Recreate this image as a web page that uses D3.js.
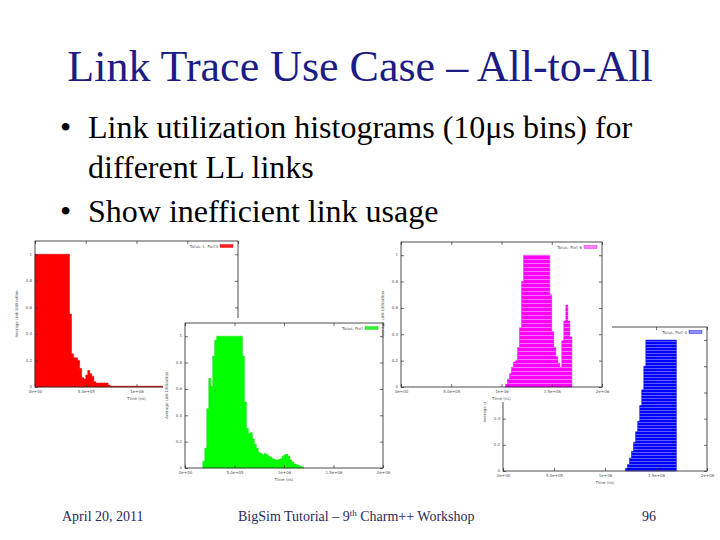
<!DOCTYPE html>
<html>
<head>
<meta charset="utf-8">
<script src="https://cdn.jsdelivr.net/npm/d3@7"></script>
<style>
  html, body { margin: 0; padding: 0; background: #fff; }
  svg { display: block; }
</style>
</head>
<body>
<svg id="chart" width="720" height="540"></svg>
<script>
// ---------------- data ----------------
const slideTitle = "Link Trace Use Case – All-to-All";
const bulletLines = [
  { bullet: true,  text: "Link utilization histograms (10μs bins) for" },
  { bullet: false, text: "different LL links" },
  { bullet: true,  text: "Show inefficient link usage" }
];
const footerDate = "April 20, 2011";
const footerPage = "96";

const binWidthNs = 2e4;            // time bin width (ns)
const timeMax = 2e6;
const utilMax = 1.1;
const xTickValues = [0, 5e5, 1e6, 1.5e6, 2e6];
const xTickLabels = ["0e+00", "5.0e+05", "1e+06", "1.5e+06", "2e+06"];
const yTickValues = [0, 0.2, 0.4, 0.6, 0.8, 1];
const yTickLabels = ["0", "0.2", "0.4", "0.6", "0.8", "1"];
const xAxisTitle = "Time (ns)";
const yAxisTitle = "Average Link Utilization";

// red link (Port 3)
const redLabel = "Torus: L. Port3";
const redStartBin = 0;
const redUtil = [1, 1, 1, 1, 1, 1, 1, 1, 1, 1, 1, 1, 1, 1, 1, 1, 1,
  0.55, 0.25, 0.22, 0.22, 0.2, 0.14, 0.07, 0.06, 0.09, 0.125, 0.1, 0.08, 0.04,
  0.03, 0.03, 0.03, 0.03, 0.03, 0.03, 0.015,
  0.006, 0.006, 0.006, 0.006, 0.006, 0.006, 0.006, 0.006, 0.006, 0.006, 0.006, 0.006, 0.006,
  0.006, 0.006, 0.006, 0.006, 0.006, 0.006, 0.006, 0.006, 0.006, 0.006, 0.006, 0.006, 0.006];

// green link
const greenLabel = "Torus: Port";
const greenStartBin = 9;
const greenUtil = [0.05, 0.15, 0.45, 0.68, 0.62, 0.85, 0.97,
  1, 1, 1, 1, 1, 1, 1, 1, 1, 1, 1, 1, 1,
  0.85, 0.5, 0.3, 0.26, 0.27, 0.22, 0.18, 0.15, 0.12, 0.11, 0.1, 0.11, 0.1, 0.09,
  0.08, 0.07, 0.065, 0.06, 0.065, 0.07, 0.09, 0.1, 0.105, 0.09, 0.06, 0.045, 0.03,
  0.025, 0.02, 0.012, 0.008];

// magenta link
const magentaLabel = "Torus: Port 6";
const magentaStartBin = 52;
const magentaUtil = [0.02, 0.06, 0.1, 0.15, 0.19, 0.2, 0.3, 0.45, 0.8,
  1, 1, 1, 1, 1, 1, 1, 1, 1, 1, 1, 1, 1,
  0.7, 0.42, 0.3, 0.23, 0.18, 0.15, 0.35, 0.5, 0.62, 0.5, 0.38];

// blue link
const blueLabel = "Torus: Port 0";
const blueStartBin = 60;
const blueUtil = [0.02, 0.05, 0.1, 0.15, 0.22, 0.3, 0.38, 0.5, 0.62, 0.8,
  1, 1, 1, 1, 1, 1, 1, 1, 1, 1, 1, 1, 1, 1, 1];

// ---------------- drawing ----------------
const svg = d3.select("#chart");
const serif = "'Liberation Serif', 'Times New Roman', serif";
const small = "'DejaVu Sans', sans-serif";

svg.append("rect").attr("width", 720).attr("height", 540).attr("fill", "#fff");

// patterns for striped fills (downsampled look)
const defs = svg.append("defs");
function stripes(id, base, line, period) {
  const p = defs.append("pattern").attr("id", id).attr("patternUnits", "userSpaceOnUse")
    .attr("width", 8).attr("height", period);
  p.append("rect").attr("width", 8).attr("height", period).attr("fill", base);
  p.append("rect").attr("y", period - 1).attr("width", 8).attr("height", 0.8).attr("fill", line);
}
stripes("magStripe", "#ff00ff", "#ff8cff", 4);
stripes("blueStripe", "#0000ff", "#7070ff", 3);

// Title
svg.append("text").attr("x", 360).attr("y", 81).attr("text-anchor", "middle")
  .attr("font-family", serif).attr("font-size", 44).attr("fill", "#1c1c86")
  .text(slideTitle);

// Bullets
const bulletY = [138, 178, 222];
bulletLines.forEach((b, i) => {
  if (b.bullet) {
    svg.append("text").attr("x", 60).attr("y", bulletY[i])
      .attr("font-family", serif).attr("font-size", 32).attr("fill", "#000").text("•");
  }
  svg.append("text").attr("x", 88).attr("y", bulletY[i])
    .attr("font-family", serif).attr("font-size", 32).attr("fill", "#000").text(b.text);
});

const panels = [];
function panel(cfg, util, startBin, label, fill, swatch, edge) {
  const g = svg.append("g");
  g.append("rect").attr("x", cfg.bx0).attr("y", cfg.by0)
    .attr("width", cfg.bx1 - cfg.bx0).attr("height", cfg.by1 - cfg.by0).attr("fill", "#fff");

  const x = d3.scaleLinear().domain([0, timeMax]).range([cfg.x0, cfg.x1]);
  const y = d3.scaleLinear().domain([0, utilMax]).range([cfg.y1, cfg.y0]);

  const pts = util.map((v, i) => ({ t: (startBin + i) * binWidthNs, v }));
  pts.push({ t: (startBin + util.length) * binWidthNs, v: 0 });

  const area = d3.area().curve(d3.curveStepAfter)
    .x(d => x(d.t)).y0(y(0)).y1(d => y(d.v));
  g.append("path").datum(pts).attr("d", area).attr("fill", fill)
    .attr("stroke", edge).attr("stroke-width", 0.5);

  const tickStyle = sel => {
    sel.select(".domain").remove();
    sel.selectAll("line").attr("stroke", "#333").attr("stroke-width", 0.7);
    sel.selectAll("text").attr("font-family", small).attr("font-size", 4).attr("fill", "#555");
  };
  g.append("g").attr("transform", `translate(0,${cfg.y1})`)
    .call(d3.axisBottom(x).tickValues(xTickValues).tickFormat((d, i) => xTickLabels[i])
      .tickSizeInner(-3).tickSizeOuter(0).tickPadding(3.5))
    .call(tickStyle);
  g.append("g").attr("transform", `translate(0,${cfg.y0})`)
    .call(d3.axisTop(x).tickValues(xTickValues).tickFormat("").tickSizeInner(-3).tickSizeOuter(0))
    .call(tickStyle);
  g.append("g").attr("transform", `translate(${cfg.x0},0)`)
    .call(d3.axisLeft(y).tickValues(yTickValues).tickFormat((d, i) => yTickLabels[i])
      .tickSizeInner(-3).tickSizeOuter(0).tickPadding(3))
    .call(tickStyle)
    .call(s => s.selectAll("text").attr("dy", "0.2em"));
  g.append("g").attr("transform", `translate(${cfg.x1},0)`)
    .call(d3.axisRight(y).tickValues(yTickValues).tickFormat("").tickSizeInner(-3).tickSizeOuter(0))
    .call(tickStyle);

  // frame
  g.append("rect").attr("x", cfg.x0).attr("y", cfg.y0)
    .attr("width", cfg.x1 - cfg.x0).attr("height", cfg.y1 - cfg.y0)
    .attr("fill", "none").attr("stroke", "#222").attr("stroke-width", 0.8);

  // axis titles
  g.append("text").attr("x", (cfg.x0 + cfg.x1) / 2).attr("y", cfg.y1 + 12.5)
    .attr("text-anchor", "middle").attr("font-family", small).attr("font-size", 4).attr("fill", "#555")
    .text(xAxisTitle);
  g.append("text")
    .attr("transform", `translate(${cfg.x0 - 17},${(cfg.y0 + cfg.y1) / 2}) rotate(-90)`)
    .attr("text-anchor", "middle").attr("font-family", small).attr("font-size", 4).attr("fill", "#555")
    .text(yAxisTitle);

  // legend
  const lx = cfg.x1 - 5;
  g.append("rect").attr("x", lx - 13).attr("y", cfg.y0 + 3.5).attr("width", 13).attr("height", 3)
    .attr("fill", swatch).attr("stroke", edge).attr("stroke-width", 0.4);
  g.append("text").attr("x", lx - 15).attr("y", cfg.y0 + 6.5).attr("text-anchor", "end")
    .attr("font-family", small).attr("font-size", 4).attr("fill", "#555").text(label);
  panels.push({ g, cfg });
  return g;
}

panel({ x0: 35, x1: 238, y0: 241, y1: 387, bx0: 8, bx1: 245, by0: 236, by1: 402 },
  redUtil, redStartBin, redLabel, "#ff0000", "#ff2020", "#e00000");
panel({ x0: 185, x1: 383, y0: 323, y1: 468, bx0: 163, bx1: 392, by0: 318, by1: 488 },
  greenUtil, greenStartBin, greenLabel, "#00ff00", "#33ee33", "#00e000");
panel({ x0: 503, x1: 707, y0: 327, y1: 471, bx0: 480, bx1: 715, by0: 322, by1: 488 },
  blueUtil, blueStartBin, blueLabel, "url(#blueStripe)", "#8f8fff", "#0000e0");
panel({ x0: 401, x1: 602, y0: 242, y1: 387, bx0: 388, bx1: 612, by0: 237, by1: 402 },
  magentaUtil, magentaStartBin, magentaLabel, "url(#magStripe)", "#ff80ff", "#e000e0");

// drop texts that are fully covered by a panel stacked above them
panels.forEach((p, i) => {
  p.g.selectAll("text").each(function () {
    const r = this.getBoundingClientRect();
    const hidden = panels.slice(i + 1).some(q =>
      r.left >= q.cfg.bx0 && r.right <= q.cfg.bx1 && r.top >= q.cfg.by0 && r.bottom <= q.cfg.by1);
    if (hidden) d3.select(this).remove();
  });
});

// Footer
const footColor = "#2a2a5a";
svg.append("text").attr("x", 62).attr("y", 521).attr("font-family", serif).attr("font-size", 14)
  .attr("fill", footColor).text(footerDate);
const ft = svg.append("text").attr("x", 238).attr("y", 521).attr("font-family", serif)
  .attr("font-size", 14).attr("fill", footColor);
ft.append("tspan").text("BigSim Tutorial – 9");
ft.append("tspan").attr("font-size", 9).attr("dy", -5).text("th");
ft.append("tspan").attr("dy", 5).text(" Charm++ Workshop");
svg.append("text").attr("x", 656).attr("y", 521).attr("text-anchor", "end")
  .attr("font-family", serif).attr("font-size", 14).attr("fill", footColor).text(footerPage);
</script>
</body>
</html>
